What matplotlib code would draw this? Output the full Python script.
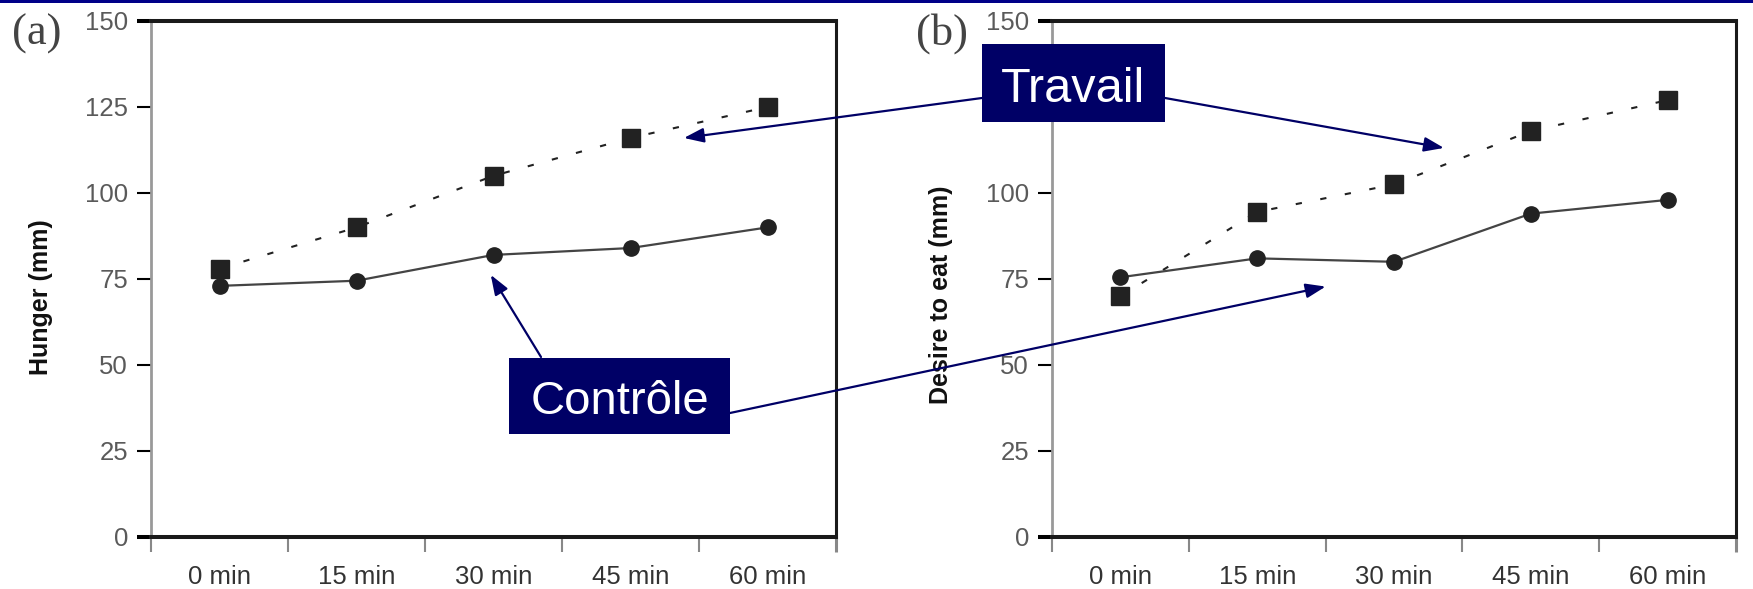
import numpy as np
import matplotlib
matplotlib.use("Agg")
import matplotlib.pyplot as plt
import matplotlib.font_manager as fm
from matplotlib.patches import Rectangle, ConnectionPatch

# ---------------- data ----------------
categories = ["0 min", "15 min", "30 min", "45 min", "60 min"]
yticks_vals = [0, 25, 50, 75, 100, 125, 150]

hunger_travail = [78, 90, 105, 116, 125]
hunger_controle = [73, 74.5, 82, 84, 90]

desire_travail = [70, 94.5, 102.5, 118, 127]
desire_controle = [75.5, 81, 80, 94, 98]

ylabel_a = "Hunger (mm)"
ylabel_b = "Desire to eat (mm)"
panel_a = "(a)"
panel_b = "(b)"
label_travail = "Travail"
label_controle = "Contrôle"

# ---------------- fonts ----------------
names = {f.name for f in fm.fontManager.ttflist}
if "Liberation Sans Narrow" in names:
    NARROW = "Liberation Sans Narrow"
    YT, XT, AL = 21, 23, 22
else:
    NARROW = "Liberation Sans"
    YT, XT, AL = 18.5, 18.5, 18

W, H = 1753, 589
fig = plt.figure(figsize=(W / 100, H / 100), dpi=100)
fig.patch.set_facecolor("white")


def fx(px):
    return px / W


def fy(py):
    return 1 - py / H


NAVY = "#000066"

# top navy bar
fig.add_artist(Rectangle((0, fy(3)), 1, 3 / H, transform=fig.transFigure,
                         facecolor="#000088", edgecolor="none", zorder=10))

x = np.arange(len(categories)) + 0.5


def make_panel(left, right, travail, controle):
    ax = fig.add_axes([fx(left), fy(537), fx(right - left), (537 - 21) / H])
    ax.set_xlim(0, len(categories))
    ax.set_ylim(0, 150)
    ax.plot(x, travail, linestyle=(0, (3, 9)), color="#222222", lw=1.5,
            marker="s", ms=13, mfc="#222222", mec="#222222", zorder=3)
    ax.plot(x, controle, linestyle="-", color="#444444", lw=1.6,
            marker="o", ms=11, mfc="#222222", mec="#222222", zorder=3)
    # spines
    ax.spines["top"].set_color("#1a1a1a")
    ax.spines["top"].set_linewidth(2.9)
    ax.spines["bottom"].set_color("#1a1a1a")
    ax.spines["bottom"].set_linewidth(2.9)
    ax.spines["right"].set_color("#1a1a1a")
    ax.spines["right"].set_linewidth(2.2)
    ax.spines["left"].set_color("#999999")
    ax.spines["left"].set_linewidth(2.0)
    # y ticks
    ax.set_yticks(yticks_vals)
    ax.set_yticklabels([str(v) for v in yticks_vals])
    ax.tick_params(axis="y", direction="out", length=10, width=1.5, pad=6.5,
                   labelsize=YT, labelcolor="#5a5a5a")
    for t, v in zip(ax.yaxis.get_major_ticks(), yticks_vals):
        t.tick1line.set_color("#1a1a1a" if v % 50 == 0 else "#999999")
        t.tick1line.set_markeredgewidth(2.9 if v in (0, 150) else 1.5)
    for lab in ax.get_yticklabels():
        lab.set_fontfamily(NARROW)
    # x ticks: major at boundaries, labels centered (minor)
    ax.set_xticks(np.arange(len(categories) + 1))
    ax.set_xticklabels([])
    ax.tick_params(axis="x", which="major", direction="out", length=11,
                   width=1.5, color="#888888")
    xt = ax.xaxis.get_major_ticks()
    xt[-1].tick1line.set_color("#1a1a1a")
    xt[-1].tick1line.set_markeredgewidth(2.2)
    ax.set_xticks(x, minor=True)
    ax.set_xticklabels(categories, minor=True)
    ax.tick_params(axis="x", which="minor", length=0, pad=20,
                   labelsize=XT, labelcolor="#333333")
    for lab in ax.get_xticklabels(minor=True):
        lab.set_fontfamily(NARROW)
    return ax


ax_a = make_panel(151, 836, hunger_travail, hunger_controle)
ax_b = make_panel(1052, 1736, desire_travail, desire_controle)

# axis labels
fig.text(fx(41), fy(297), ylabel_a, rotation=90, ha="center", va="center",
         fontsize=AL, fontweight="bold", color="#111111", family=NARROW)
fig.text(fx(941), fy(295), ylabel_b, rotation=90, ha="center", va="center",
         fontsize=AL, fontweight="bold", color="#111111", family=NARROW)

# panel letters
fig.text(fx(37), fy(45), panel_a, ha="center", va="baseline", fontsize=32,
         family="Liberation Serif", color="#444444")
fig.text(fx(942), fy(45), panel_b, ha="center", va="baseline", fontsize=32,
         family="Liberation Serif", color="#444444")


# annotation boxes
def box(l, t, r, b, text, size, base):
    fig.add_artist(Rectangle((fx(l), fy(b)), fx(r - l), (b - t) / H,
                             transform=fig.transFigure, facecolor=NAVY,
                             edgecolor="none", zorder=20))
    fig.text(fx((l + r) / 2), fy(base), text, ha="center", va="baseline",
             fontsize=size, family="Liberation Sans", color="white", zorder=21)


box(982, 44, 1165, 122, label_travail, 35, 102)
box(509, 358, 730, 434, label_controle, 34, 414)

# arrows
arrow_style = "-|>,head_length=0.6,head_width=0.22"


def arrow(start_px, ax, tip):
    con = ConnectionPatch(xyA=(fx(start_px[0]), fy(start_px[1])),
                          coordsA="figure fraction",
                          xyB=tip, coordsB=ax.transData,
                          arrowstyle=arrow_style, mutation_scale=20,
                          color=NAVY, lw=1.6, shrinkA=0, shrinkB=0, zorder=15)
    fig.add_artist(con)


arrow((982, 98), ax_a, (3.89, 116.0))
arrow((1165, 98), ax_b, (2.865, 113.1))
arrow((541, 357), ax_a, (2.48, 76.2))
arrow((730, 413), ax_b, (2.0, 72.8))

fig.savefig("out.png", dpi=100, facecolor="white")
